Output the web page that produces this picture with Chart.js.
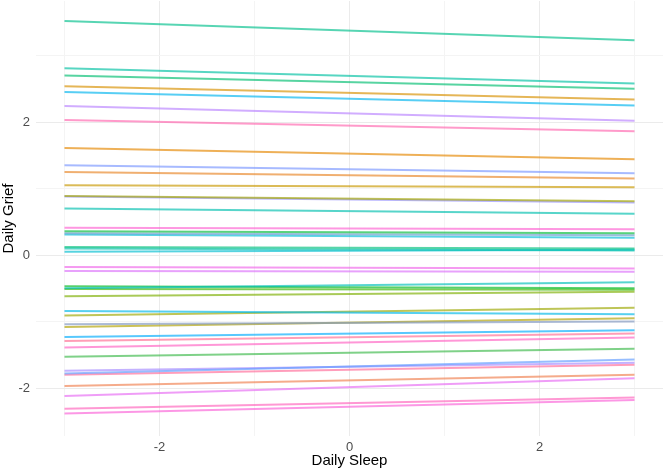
<!DOCTYPE html>
<html>
<head>
<meta charset="utf-8">
<script src="https://cdn.jsdelivr.net/npm/chart.js@4"></script>
<style>
  html, body { margin: 0; padding: 0; background: #fff; }
  #wrap { width: 664px; height: 472px; }
</style>
</head>
<body>
<div id="wrap"><canvas id="griefChart" width="664" height="472"></canvas></div>
<script>
// x positions of each fitted line (Daily Sleep)
const sleepRange = [-3, 3];

// Daily Grief at sleep = -3 and sleep = 3, one entry per person
const griefStart = [
  3.52, 2.81, 2.70, 2.54, 2.45, 2.24, 2.03, 1.61, 1.35, 1.25,
  1.05, 0.89, 0.88, 0.70, 0.41, 0.36, 0.33, 0.31, 0.12, 0.10,
  0.05, -0.18, -0.24, -0.50, -0.47, -0.51, -0.62, -0.84, -0.91, -1.04,
  -1.08, -1.23, -1.29, -1.39, -1.53, -1.78, -1.74, -1.80, -1.97, -2.12,
  -2.31, -2.38
];
const griefEnd = [
  3.23, 2.58, 2.50, 2.34, 2.25, 2.02, 1.86, 1.44, 1.23, 1.15,
  1.02, 0.81, 0.79, 0.62, 0.39, 0.33, 0.30, 0.26, 0.10, 0.07,
  0.08, -0.20, -0.25, -0.41, -0.50, -0.52, -0.55, -0.89, -0.79, -1.00,
  -0.95, -1.13, -1.18, -1.24, -1.41, -1.57, -1.62, -1.65, -1.80, -1.85,
  -2.14, -2.18
];
const lineColors = [
  '#00C08B', '#00C1A3', '#00BE70', '#D89000', '#00B4EF', '#B983FF', '#FF65AE', '#E58700', '#7997FF', '#E88526',
  '#C99800', '#A3A500', '#9590FF', '#00C0AF', '#FD61D1', '#00BA38', '#6C9BCE', '#00BCD8', '#00BF7D', '#00C1AA',
  '#00BDD0', '#F066EA', '#DC71FA', '#00C0B8', '#00B81F', '#39B600', '#7CAE00', '#00B8E7', '#9CA700', '#7F96C0',
  '#B0A100', '#00ACFC', '#FF6C91', '#FF61C3', '#3DB94A', '#619CFF', '#A58AFF', '#FF6A98', '#F07F4F', '#E76BF3',
  '#FF62BC', '#FB61D7'
];

const datasets = griefStart.map((s, i) => ({
  data: [{ x: sleepRange[0], y: s }, { x: sleepRange[1], y: griefEnd[i] }],
  borderColor: lineColors[i] + 'A8',
  borderWidth: 2,
  pointRadius: 0,
  tension: 0
}));

const gridColor = ctx => (ctx.tick && ctx.tick.value % 2 === 0) ? '#EBEBEB' : '#F4F4F4';

const ctx = document.getElementById('griefChart').getContext('2d');
const griefChart = new Chart(ctx, {
  type: 'line',
  data: { datasets },
  options: {
    responsive: false,
    animation: false,
    layout: { padding: { top: 1, right: 1, left: 0, bottom: 0 } },
    plugins: {
      legend: { display: false },
      tooltip: { enabled: false }
    },
    scales: {
      x: {
        type: 'linear',
        min: -3.3,
        max: 3.3,
        border: { display: false },
        grid: { color: gridColor, drawTicks: false },
        ticks: {
          stepSize: 1,
          includeBounds: false,
          padding: 4,
          color: '#4D4D4D',
          font: { family: 'Liberation Sans', size: 13 },
          callback: v => (v % 2 === 0 ? String(v) : '')
        },
        title: {
          display: true,
          text: 'Daily Sleep',
          color: '#000',
          padding: { top: 0, bottom: 2 },
          font: { family: 'Liberation Sans', size: 15 }
        },
        afterFit: scale => {
          scale.height = 36;
          scale.paddingLeft = 0;
          scale.paddingRight = 0;
        }
      },
      y: {
        type: 'linear',
        min: -2.72,
        max: 3.82,
        border: { display: false },
        grid: { color: gridColor, drawTicks: false },
        ticks: {
          stepSize: 1,
          includeBounds: false,
          padding: 6,
          color: '#4D4D4D',
          font: { family: 'Liberation Sans', size: 13 },
          callback: v => (v % 2 === 0 ? String(v) : '')
        },
        title: {
          display: true,
          text: 'Daily Grief',
          color: '#000',
          padding: { top: 0, bottom: 2 },
          font: { family: 'Liberation Sans', size: 15 }
        },
        afterFit: scale => {
          scale.width = 36;
          scale.paddingTop = 0;
          scale.paddingBottom = 0;
        }
      }
    }
  }
});
</script>
</body>
</html>
